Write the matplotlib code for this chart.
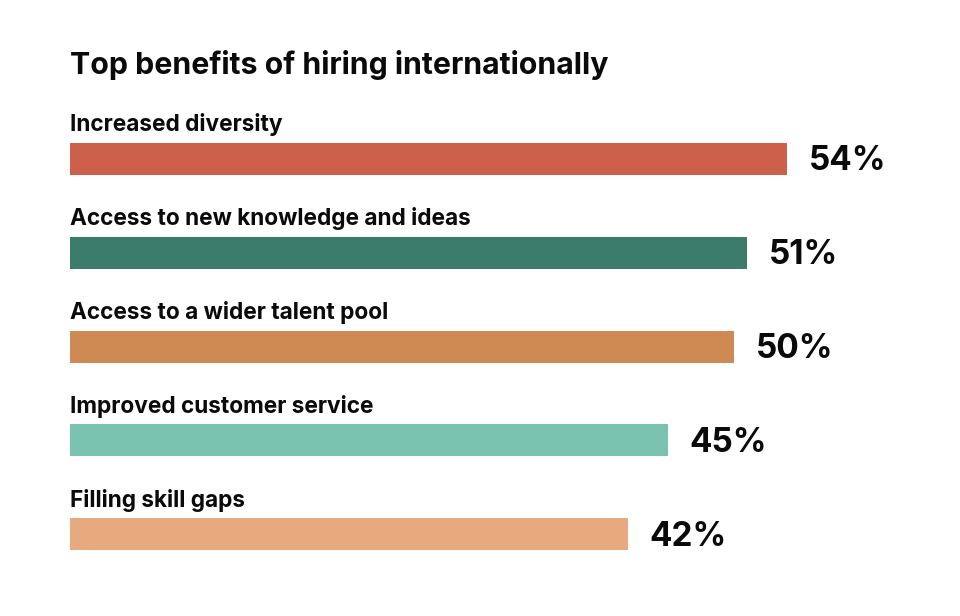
import matplotlib
matplotlib.use("Agg")
import matplotlib.pyplot as plt

categories = ["Increased diversity", "Access to new knowledge and ideas",
              "Access to a wider talent pool", "Improved customer service",
              "Filling skill gaps"]
values = [54, 51, 50, 45, 42]
value_labels = ["54%", "51%", "50%", "45%", "42%"]
colors = ["#CD604A", "#3B7D6A", "#CF8A53", "#79C3B0", "#E6AA7E"]
title = "Top benefits of hiring internationally"

plt.rcParams['font.family'] = ['Inter', 'DejaVu Sans']

W, H = 960, 616
fig = plt.figure(figsize=(W / 100, H / 100), dpi=100)
ax = fig.add_axes([0, 0, 1, 1])

px_per_unit = 13.28
x0 = 70
y_first = 159
y_step = 93.75
ax.set_xlim(-x0 / px_per_unit, (W - x0) / px_per_unit)
ax.set_ylim((H - y_first) / y_step, -y_first / y_step)
ax.axis("off")

bar_h = 32 / y_step
pos = list(range(len(values)))
ax.barh(pos, values, height=bar_h, color=colors, left=0)

for i, (cat, v, lab) in enumerate(zip(categories, values, value_labels)):
    ax.text(0, i - bar_h / 2 - 11.5 / y_step, cat, fontsize=16.3, fontweight="bold",
            color="#0A0A0A", ha="left", va="baseline")
    ax.text(v + 22 / px_per_unit, i + 11.5 / y_step, lab, fontsize=24,
            fontweight="bold", color="#0A0A0A", ha="left", va="baseline")

ax.text(0, (73.5 - y_first) / y_step, title, fontsize=21.8, fontweight="bold",
        color="#0A0A0A", ha="left", va="baseline")

fig.savefig("out.png", dpi=100, facecolor="white")
